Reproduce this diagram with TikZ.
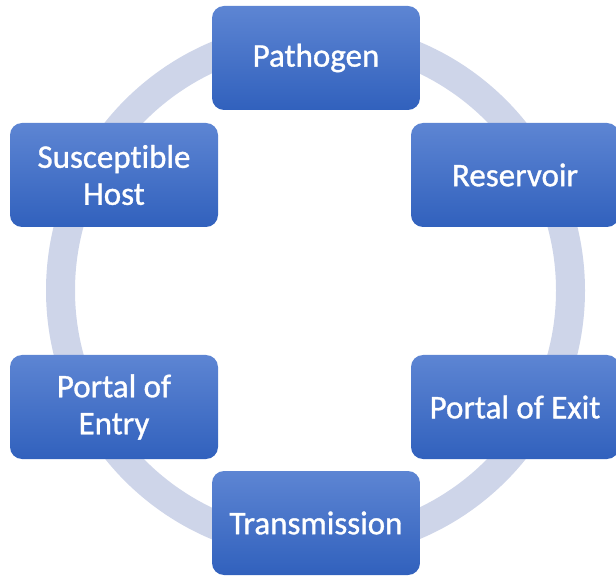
\documentclass[tikz,border=0pt]{standalone}
\usepackage{fontspec}
\setmainfont[Ligatures=NoCommon, FakeBold=1]{Carlito}
\usepackage{tikz}

\definecolor{ringlavender}{RGB}{206,213,233}
\definecolor{boxtop}{RGB}{93,133,211}
\definecolor{boxbottom}{RGB}{49,97,189}

\tikzset{stage/.style={rectangle, rounded corners=12pt, minimum width=208pt, minimum height=104pt,
  top color=boxtop, bottom color=boxbottom, draw=none, text=white, align=center,
  font=\fontsize{33}{37}\selectfont}}

\begin{document}
\begin{tikzpicture}[x=1pt,y=-1pt]
\useasboundingbox (0,0) rectangle (616,577);
%%% Draws ring behind the stages
\draw[ringlavender, line width=29pt] (315.5,290.5) circle [radius=255pt];
%%% Draws stages
\node[stage] (pathogen) at (316,58) {Pathogen};
\node[stage] (reservoir) at (515,175) {Reservoir};
\node[stage] (exit) at (515,407) {Portal of Exit};
\node[stage] (transmission) at (316,523) {Transmission};
\node[stage] (entry) at (114,407) {Portal of\\Entry};
\node[stage] (host) at (114,175) {Susceptible\\Host};
\end{tikzpicture}
\end{document}
